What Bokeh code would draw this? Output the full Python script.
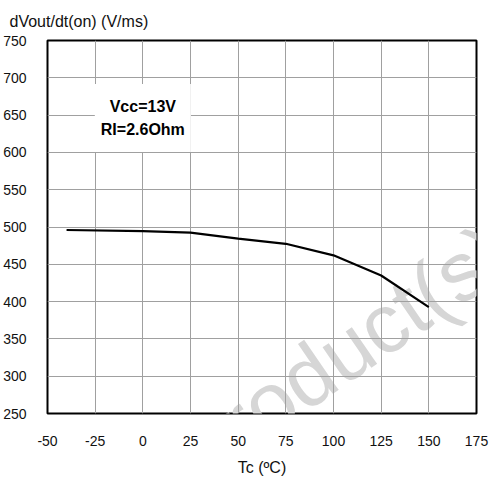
import math
from bokeh.plotting import figure
from bokeh.models import Range1d, Label
from bokeh.embed import file_html
from bokeh.resources import INLINE

# ---- data ----
temps = [-40, 0, 25, 50, 75, 100, 125, 150]
dv_on = [496, 494.5, 492.5, 484.5, 477.5, 462, 435, 392.5]
x_ticks = [-50, -25, 0, 25, 50, 75, 100, 125, 150, 175]
x_tick_labels = ["-50", "-25", "0", "25", "50", "75", "100", "125", "150", "175"]
y_ticks = [250, 300, 350, 400, 450, 500, 550, 600, 650, 700, 750]
y_tick_labels = ["250", "300", "350", "400", "450", "500", "550", "600", "650", "700", "750"]
y_title = "dVout/dt(on) (V/ms)"
x_title = "Tc (ºC)"
note_text = "Vcc=13V\nRI=2.6Ohm"
watermark_text = "Obsolete Product(s)"

FONT = "Liberation Sans"

p = figure(width=491, height=479,
           x_range=Range1d(x_ticks[0], x_ticks[-1]),
           y_range=Range1d(y_ticks[0], y_ticks[-1]),
           output_backend="svg", toolbar_location=None,
           min_border_left=47, min_border_right=15,
           min_border_top=40, min_border_bottom=66)

p.background_fill_color = "white"
p.border_fill_color = "white"
p.outline_line_color = "black"
p.outline_line_width = 2
p.outline_line_alpha = 1

p.title.text = y_title
p.title.align = "left"
p.title.offset = -38
p.title.standoff = 21
p.title.text_font = FONT
p.title.text_font_size = "16px"
p.title.text_font_style = "normal"
p.title.text_color = "#111111"

for ax in (p.xaxis, p.yaxis):
    ax.major_tick_line_color = None
    ax.minor_tick_line_color = None
    ax.axis_line_color = None
    ax.major_label_text_font = FONT
    ax.major_label_text_font_size = "14px"
    ax.major_label_text_color = "#111111"

p.xaxis.ticker = x_ticks
p.yaxis.ticker = y_ticks
p.xaxis.major_label_overrides = dict(zip(x_ticks, x_tick_labels))
p.yaxis.major_label_overrides = dict(zip(y_ticks, y_tick_labels))
p.xaxis.major_label_standoff = 16
p.yaxis.major_label_standoff = 15
p.xaxis.axis_label = x_title
p.xaxis.axis_label_text_font = FONT
p.xaxis.axis_label_text_font_size = "16px"
p.xaxis.axis_label_text_font_style = "normal"
p.xaxis.axis_label_text_color = "#111111"
p.xaxis.axis_label_standoff = 10

p.xgrid.ticker = x_ticks
p.ygrid.ticker = y_ticks
for g in (p.xgrid, p.ygrid):
    g.grid_line_color = "#a0a0a0"
    g.grid_line_width = 1

# watermark (decoration, drawn beneath the grid)
ang = math.radians(34.5)
wm = Label(x=-135.6, y=-90.0, text=watermark_text, angle=ang,
           text_font=FONT, text_font_size="84px", text_color="#d6d6d6",
           text_align="left", text_baseline="alphabetic", level="image")
p.add_layout(wm)

p.line(temps, dv_on, line_color="black", line_width=2.2)

note = Label(x=0, y=646, text=note_text, text_align="center",
             text_baseline="middle", text_font=FONT, text_font_size="16px",
             text_font_style="bold", text_color="black",
             text_line_height=1.35,
             background_fill_color="white", padding=dict(x=6, y=14))
p.add_layout(note)

open("out.html", "w").write(file_html(p, INLINE))
